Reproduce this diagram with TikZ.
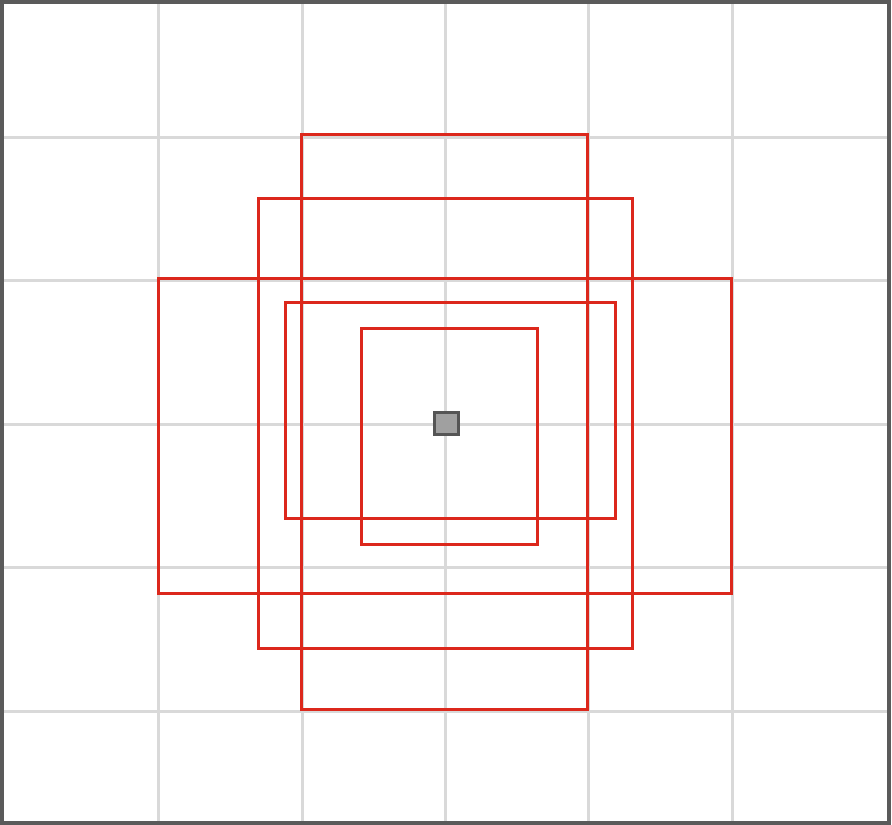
\documentclass[tikz,border=0pt]{standalone}
\begin{document}
\begin{tikzpicture}[x=1pt,y=-1pt,
  gridline/.style={draw=black!15,line width=3pt},
  redbox/.style={line width=3pt,draw={rgb,255:red,220;green,40;blue,28}},
  frame/.style={draw={rgb,255:red,90;green,90;blue,90},line width=3.5pt}]
\useasboundingbox (0,0) rectangle (892,825);
\foreach \x in {158,302,445,588,732} \draw[gridline] (\x,3) -- (\x,822);
\foreach \y in {137,280,424,567,711} \draw[gridline] (3,\y) -- (888,\y);
\draw[redbox] (301,134) rectangle (587,709);
\draw[redbox] (258,198) rectangle (632,648);
\draw[redbox] (158,278) rectangle (731,593);
\draw[redbox] (285,302) rectangle (615,518);
\draw[redbox] (361,328) rectangle (537,544);
\node[draw={rgb,255:red,85;green,85;blue,85},fill={rgb,255:red,160;green,160;blue,160},line width=3pt,minimum width=24pt,minimum height=22pt,inner sep=0pt] (c) at (446.5,423.8) {};
\draw[frame] (1.75,1.75) rectangle (889,823);
\end{tikzpicture}
\end{document}
